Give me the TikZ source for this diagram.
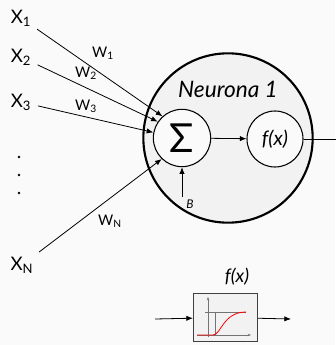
\documentclass[tikz,border=0pt]{standalone}
\usepackage{fontspec}
\setmainfont{Lato}
\usetikzlibrary{arrows.meta,positioning,calc}

\begin{document}
\begin{tikzpicture}[
    x=0.75pt, y=-0.75pt,
    inp/.style={font=\fontsize{14}{16}\selectfont, inner sep=1pt},
    wlab/.style={font=\fontsize{11}{13}\selectfont, inner sep=1pt},
    unit/.style={circle, draw, thick, fill=black!2, minimum size=43pt, inner sep=0pt},
    arr/.style={-{Latex[length=5pt,width=4pt]}, semithick},
    axis/.style={black!55, -{Stealth[length=2.5pt]}, thin}
]
    \useasboundingbox (0,0) rectangle (335,345);
    \fill[black!2] (0,0) rectangle (335,345);

    % neuron body
    \node [circle, draw, line width=1.6pt, fill=black!5, minimum size=127pt] (neuron) at (228,138) {};
    \node [font=\itshape\fontsize{17}{20}\selectfont] (name) at (228,89) {Neurona 1};
    \node [unit] (sigma) at (182,138) {\fontsize{30}{30}\selectfont Σ};
    \node [unit, minimum size=42pt] (fx) at (275,139) {\itshape\fontsize{15}{17}\selectfont f(x)};

    % inputs
    \node [inp] (x1) at (21,18) {X\textsubscript{1}};
    \node [inp] (x2) at (21,57) {X\textsubscript{2}};
    \node [inp] (x3) at (21,102) {X\textsubscript{3}};
    \node [inp] (xn) at (22,265) {X\textsubscript{N}};
    \foreach \y in {157,175,193}
        \fill (19,\y) circle (1pt);

    \draw [arr, shorten <=4pt] (x1) -- (sigma.132);
    \draw [arr, shorten <=4pt] (x2) -- (sigma.146);
    \draw [arr, shorten <=4pt] (x3) -- (sigma.169);
    \draw [arr, shorten <=4pt] (xn) -- (sigma.226);

    \node [wlab] (w1) at (103,53) {W\textsubscript{1}};
    \node [wlab] (w2) at (86,73) {W\textsubscript{2}};
    \node [wlab] (w3) at (86,106) {W\textsubscript{3}};
    \node [wlab] (wn) at (110,221) {W\textsubscript{N}};

    % bias and output
    \coordinate (bias) at (182,197);
    \node [font=\itshape\fontsize{9}{10}\selectfont] (b) at (190,204) {B};
    \draw [arr] (bias) -- (sigma);
    \draw [arr] (sigma) -- (fx);
    \coordinate (out) at (348,139);
    \draw [arr] (fx) -- (out);

    % activation block
    \node [font=\itshape\fontsize{14}{16}\selectfont] (ftitle) at (237,277) {f(x)};
    \node [draw=black!75, thick, fill=black!5, minimum width=48pt, minimum height=36pt] (act) at (225.5,317.5) {};
    \coordinate (actin) at (155,319);
    \coordinate (actout) at (291,319);
    \draw [arr] (actin) -- (act);
    \draw [arr] (act) -- (actout);
    \draw [axis] (197,335) -- (251,335);
    \draw [axis] (208,337) -- (208,297);
    \draw [black!55] (205,312) -- (215,312);
    \draw [black!55] (215,335) -- (215,312) -- (246,312);
    \draw [red, semithick] (197,335) -- (213,335) .. controls (221,335) and (223,312) .. (246,312);
\end{tikzpicture}
\end{document}
